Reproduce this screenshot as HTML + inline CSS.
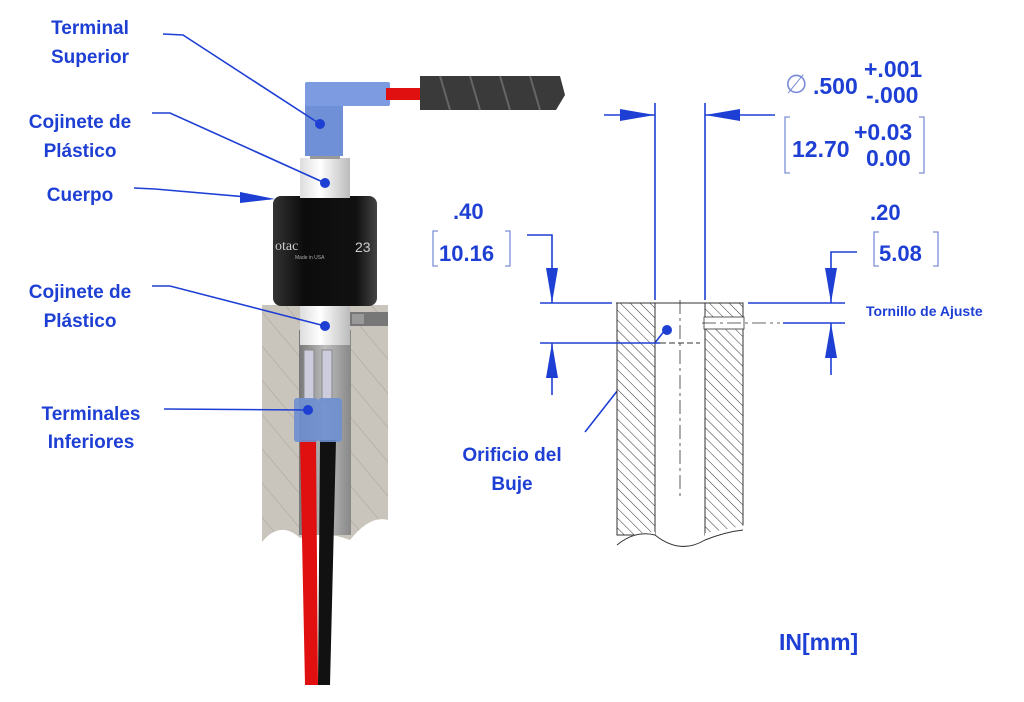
<!DOCTYPE html>
<html><head><meta charset="utf-8"><style>
html,body{margin:0;padding:0;background:#fff;}
svg{display:block;}
text{font-family:"Liberation Sans",sans-serif;font-weight:bold;fill:#1e3fd4;}
</style></head><body>
<svg width="1024" height="702" viewBox="0 0 1024 702" xmlns="http://www.w3.org/2000/svg">
<defs>
<pattern id="h" width="7" height="7" patternUnits="userSpaceOnUse" patternTransform="rotate(-45)">
<rect width="7" height="7" fill="#fff"/><line x1="0" y1="0" x2="0" y2="7" stroke="#333" stroke-width="1"/></pattern>
<pattern id="g" width="22" height="22" patternUnits="userSpaceOnUse" patternTransform="rotate(-40)">
<rect width="22" height="22" fill="#c9c4bc"/><line x1="0" y1="0" x2="0" y2="22" stroke="#aaa39a" stroke-width="1"/></pattern>
<linearGradient id="blk" x1="0" x2="1"><stop offset="0" stop-color="#333"/><stop offset="0.3" stop-color="#0c0c0c"/><stop offset="0.8" stop-color="#111"/><stop offset="1" stop-color="#444"/></linearGradient>
<linearGradient id="wht" x1="0" x2="1"><stop offset="0" stop-color="#ddd"/><stop offset="0.4" stop-color="#fff"/><stop offset="1" stop-color="#bbb"/></linearGradient>
<linearGradient id="bore" x1="0" x2="1"><stop offset="0" stop-color="#777"/><stop offset="0.5" stop-color="#bdbdbd"/><stop offset="1" stop-color="#888"/></linearGradient>
</defs>

<!-- gray block -->
<path d="M262 305 H388 V520 Q370 515 350 540 Q325 530 300 538 Q280 520 262 542 Z" fill="url(#g)"/>
<rect x="299" y="330" width="52" height="205" fill="url(#bore)"/>
<rect x="350" y="312" width="38" height="14" fill="#777"/>
<rect x="352" y="314" width="12" height="10" fill="#999"/>

<!-- wires -->
<path d="M300 440 L316 440 L318 685 L305 685 Z" fill="#e01010"/>
<path d="M320 440 L336 440 L330 685 L318 685 Z" fill="#111"/>
<rect x="304" y="350" width="10" height="50" fill="#ccd" stroke="#888"/>
<rect x="322" y="350" width="10" height="50" fill="#ccd" stroke="#888"/>
<rect x="294" y="398" width="24" height="44" rx="3" fill="#6e8fd0" opacity="0.9"/>
<rect x="318" y="398" width="24" height="44" rx="3" fill="#6e8fd0" opacity="0.9"/>

<rect x="300" y="300" width="50" height="45" fill="url(#wht)"/>
<rect x="273" y="196" width="104" height="110" rx="8" fill="url(#blk)"/>
<text x="275" y="250" style="font-family:'Liberation Serif',serif;font-weight:normal;fill:#ccc" font-size="14">otac</text>
<text x="295" y="259" style="font-weight:normal;fill:#aaa" font-size="5">Made in USA</text>
<text x="355" y="252" style="font-weight:normal;fill:#ccc" font-size="14">23</text>
<rect x="300" y="158" width="50" height="40" fill="url(#wht)"/>
<rect x="310" y="153" width="30" height="6" fill="#999"/>
<rect x="305" y="84" width="38" height="72" fill="#6f8fd6"/>
<rect x="305" y="82" width="85" height="24" rx="2" fill="#7d9be0"/>
<rect x="386" y="88" width="36" height="12" fill="#e01010"/>
<path d="M420 76 H560 L565 95 L556 110 H420 Z" fill="#3a3a3a"/>
<g stroke="#666" stroke-width="2"><line x1="440" y1="76" x2="450" y2="110"/><line x1="470" y1="76" x2="480" y2="110"/><line x1="500" y1="76" x2="510" y2="110"/><line x1="530" y1="76" x2="540" y2="110"/></g>

<g stroke="#1e3fd4" stroke-width="1.6" fill="none">
<polyline points="163,34 183,35 320,124"/>
<polyline points="152,113 170,113 325,183"/>
<polyline points="134,188 155,189 270,199"/>
<polyline points="152,286 170,286 325,326"/>
<polyline points="164,409 308,410"/>
<polyline points="585,432 665,330"/>
</g>
<g fill="#1e3fd4">
<circle cx="320" cy="124" r="5"/><circle cx="325" cy="183" r="5"/>
<circle cx="325" cy="326" r="5"/><circle cx="308" cy="410" r="5"/>
<circle cx="667" cy="330" r="5"/>
<polygon points="275,199 240,192 240,203"/>
</g>

<!-- right drawing -->
<rect x="617" y="303" width="38" height="232" fill="url(#h)" stroke="#333"/>
<rect x="705" y="303" width="38" height="232" fill="url(#h)" stroke="#333"/>
<path d="M616 303 H743" stroke="#333" fill="none"/>
<path d="M614 545 Q630 532 655 532 L655 540 Q680 555 705 540 L705 533 Q725 530 745 525 L745 545 Z" fill="#fff"/>
<path d="M617 545 Q635 530 655 535 Q680 555 705 540 Q725 532 743 530" stroke="#333" fill="none"/>
<rect x="704" y="317" width="40" height="12" fill="#fff" stroke="#333" stroke-width="0.8"/>
<g stroke="#333" stroke-width="0.8" stroke-dasharray="14,4,3,4" fill="none">
<line x1="680" y1="300" x2="680" y2="500"/><line x1="702" y1="323" x2="780" y2="323"/>
</g>
<line x1="660" y1="343" x2="700" y2="343" stroke="#333" stroke-dasharray="6,3"/>

<g stroke="#1e3fd4" stroke-width="1.6" fill="none">
<line x1="655" y1="103" x2="655" y2="300"/>
<line x1="705" y1="103" x2="705" y2="300"/>
<line x1="604" y1="115" x2="655" y2="115"/>
<line x1="705" y1="115" x2="775" y2="115"/>
<line x1="540" y1="303" x2="612" y2="303"/>
<line x1="540" y1="343" x2="660" y2="343"/>
<polyline points="527,235 552,235 552,303"/>
<line x1="552" y1="343" x2="552" y2="395"/>
<line x1="748" y1="303" x2="845" y2="303"/>
<line x1="783" y1="323" x2="845" y2="323"/>
<polyline points="857,252 831,252 831,303"/>
<line x1="831" y1="323" x2="831" y2="375"/>
</g>
<g fill="#1e3fd4">
<polygon points="655,115 620,109 620,121"/>
<polygon points="705,115 740,109 740,121"/>
<polygon points="552,303 546,268 558,268"/>
<polygon points="552,343 546,378 558,378"/>
<polygon points="831,303 825,268 837,268"/>
<polygon points="831,323 825,358 837,358"/>
</g>

<g stroke="#7d8fd8" stroke-width="1.3" fill="none">
<polyline points="790,117 785,117 785,173 790,173"/>
<polyline points="919,117 924,117 924,173 919,173"/>
<polyline points="438,231 433,231 433,266 438,266"/>
<polyline points="505,231 510,231 510,266 505,266"/>
<polyline points="879,232 874,232 874,266 879,266"/>
<polyline points="933,232 938,232 938,266 933,266"/>
</g>

<g font-size="19" text-anchor="middle">
<text x="90" y="34">Terminal</text>
<text x="90" y="63">Superior</text>
<text x="80" y="128">Cojinete de</text>
<text x="80" y="157">Plástico</text>
<text x="80" y="201">Cuerpo</text>
<text x="80" y="298">Cojinete de</text>
<text x="80" y="327">Plástico</text>
<text x="91" y="420">Terminales</text>
<text x="91" y="448">Inferiores</text>
<text x="512" y="461">Orificio del</text>
<text x="512" y="490">Buje</text>
</g>
<text x="866" y="316" font-size="14">Tornillo de Ajuste</text>
<text x="779" y="650" font-size="23">IN[mm]</text>
<text x="453" y="219" font-size="22">.40</text>
<text x="439" y="261" font-size="22">10.16</text>
<text x="870" y="220" font-size="22">.20</text>
<text x="879" y="261" font-size="22">5.08</text>
<text x="785" y="93" font-size="26" style="font-weight:normal;fill:#7d8fd8">∅</text>
<text x="813" y="94" font-size="23">.500</text>
<text x="864" y="77" font-size="23">+.001</text>
<text x="866" y="103" font-size="23">-.000</text>
<text x="792" y="157" font-size="23">12.70</text>
<text x="854" y="140" font-size="23">+0.03</text>
<text x="866" y="166" font-size="23">0.00</text>
</svg>
</body></html>
